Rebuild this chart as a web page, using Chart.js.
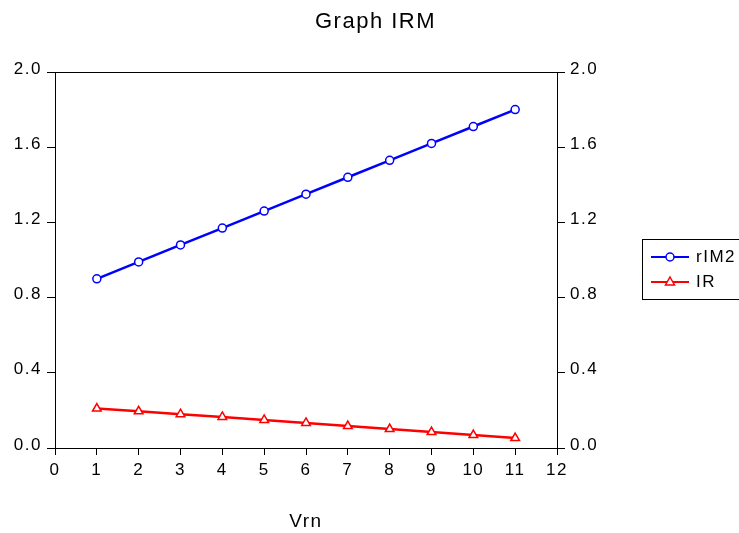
<!DOCTYPE html>
<html>
<head>
<meta charset="utf-8">
<script src="https://cdn.jsdelivr.net/npm/chart.js@4.4.1/dist/chart.umd.min.js"></script>
<style>
  html, body { margin: 0; padding: 0; background: #fff; }
  #wrap { position: relative; width: 739px; height: 533px; overflow: hidden; font-family: "Liberation Sans", Arial, sans-serif; }
  #title { position: absolute; top: 8px; left: 315px; font-size: 22px; letter-spacing: 1.5px; color: #000; white-space: nowrap; }
  #legend { position: absolute; left: 642px; top: 239px; width: 120px; height: 61px; border: 1px solid #000; box-sizing: border-box; }
  .row { position: absolute; left: 7px; height: 20px; display: flex; align-items: center; font-size: 17px; letter-spacing: 1.5px; }
  .row svg { margin-right: 6px; }
</style>
</head>
<body>
<div id="wrap">
  <canvas id="c" width="739" height="533"></canvas>
  <div id="title">Graph IRM</div>
  <div id="legend">
    <div class="row" style="top:7px"><svg width="40" height="14"><line x1="1" y1="7" x2="39" y2="7" stroke="#0000ff" stroke-width="2"/><circle cx="20" cy="7" r="4" fill="#fff" stroke="#0000ff" stroke-width="1.5"/></svg>rIM2</div>
    <div class="row" style="top:32px"><svg width="40" height="14"><line x1="1" y1="7" x2="39" y2="7" stroke="#ff0000" stroke-width="2"/><polygon points="20,2 24.5,10 15.5,10" fill="#fff" stroke="#ff0000" stroke-width="1.5"/></svg>IR</div>
  </div>
</div>
<script>
const periods = [1, 2, 3, 4, 5, 6, 7, 8, 9, 10, 11]
const rIM2 = [0.90, 0.99, 1.08, 1.17, 1.26, 1.35, 1.44, 1.53, 1.62, 1.71, 1.80]
const IR = [0.21, 0.195, 0.18, 0.165, 0.149, 0.133, 0.117, 0.101, 0.085, 0.069, 0.053]
const yTicks = [0.0, 0.4, 0.8, 1.2, 1.6, 2.0]

const family = '"Liberation Sans", Arial, sans-serif'
const font = { family, size: 17 }

// wide letter spacing, like the original export
const spacing = {
  id: 'spacing',
  beforeUpdate(chart) { chart.ctx.letterSpacing = '1.5px' },
  beforeDraw(chart) { chart.ctx.letterSpacing = '1.5px' },
}

const frame = {
  id: 'frame',
  afterDraw(chart) {
    const { ctx, chartArea: a } = chart
    ctx.save()
    ctx.strokeStyle = '#000'
    ctx.lineWidth = 1
    ctx.beginPath()
    ctx.moveTo(a.left, a.top + 0.5)
    ctx.lineTo(a.right, a.top + 0.5)
    ctx.stroke()
    ctx.restore()
  },
}

const yAxis = (position, width) => ({
  position,
  min: 0,
  max: 2,
  afterBuildTicks: (s) => { s.ticks = yTicks.map((v) => ({ value: v })) },
  afterFit: (s) => { s.width = width },
  ticks: { color: '#000', font, padding: 5, labelOffset: -3, callback: (v) => v.toFixed(1) },
  grid: { drawOnChartArea: false, color: '#000', tickLength: 8 },
  border: { color: '#000', width: 1 },
})

new Chart(document.getElementById('c'), {
  type: 'line',
  data: {
    datasets: [
      {
        label: 'rIM2',
        data: periods.map((p, i) => ({ x: p, y: rIM2[i] })),
        borderColor: '#0000ff',
        backgroundColor: '#fff',
        borderWidth: 2.5,
        pointStyle: 'circle',
        pointRadius: 4,
        pointBorderWidth: 1.5,
        yAxisID: 'y',
      },
      {
        label: 'IR',
        data: periods.map((p, i) => ({ x: p, y: IR[i] })),
        borderColor: '#ff0000',
        backgroundColor: '#fff',
        borderWidth: 2.5,
        pointStyle: 'triangle',
        pointRadius: 5,
        pointBorderWidth: 1.5,
        yAxisID: 'y',
      },
    ],
  },
  options: {
    responsive: false,
    animation: false,
    layout: { padding: { top: 72, left: 0, right: 0, bottom: 0 } },
    plugins: { legend: { display: false }, tooltip: { enabled: false } },
    scales: {
      x: {
        type: 'linear',
        min: 0,
        max: 12,
        afterFit: (s) => { s.height = 85 },
        ticks: { stepSize: 1, color: '#000', font, padding: 5 },
        grid: { drawOnChartArea: false, color: '#000', tickLength: 7 },
        border: { color: '#000', width: 1 },
        title: { display: true, text: 'Vrn', color: '#000', font: { family, size: 19 }, padding: { top: 0, bottom: 0 } },
      },
      y: yAxis('left', 55),
      y2: yAxis('right', 182),
    },
  },
  plugins: [spacing, frame],
})
</script>
</body>
</html>
